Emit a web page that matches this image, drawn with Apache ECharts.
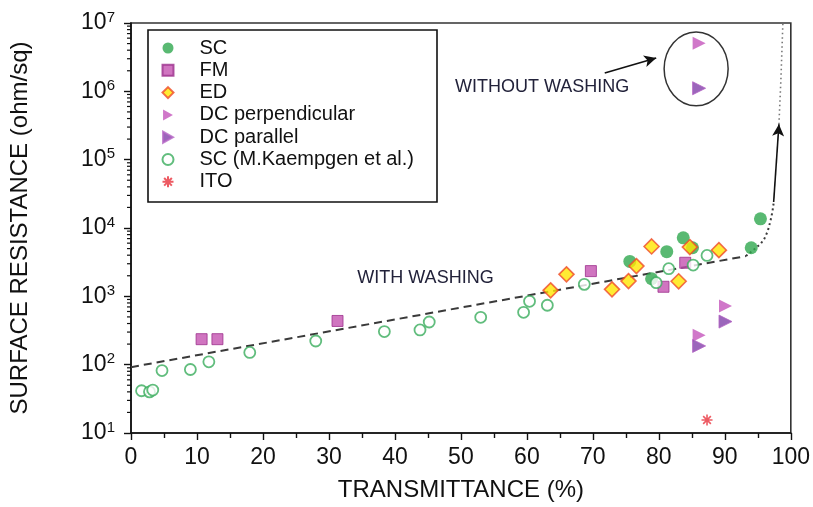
<!DOCTYPE html>
<html>
<head>
<meta charset="utf-8">
<script src="https://cdn.jsdelivr.net/npm/echarts@6/dist/echarts.min.js"></script>
<style>
  html, body { margin: 0; padding: 0; background: #fff; }
  #chart { width: 813px; height: 507px; }
</style>
</head>
<body>
<div id="chart"></div>
<script>
// Transmittance (%) vs sheet resistance (ohm/sq) for each film type
const scData = [[75.6, 3240], [78.9, 1810], [81.2, 4500], [83.7, 7190], [85.1, 5140], [94.0, 5140], [95.4, 13600]];
const fmData = [[10.7, 236], [13.1, 236], [31.3, 436], [69.7, 2340], [80.7, 1380], [84.0, 3100]];
const edData = [[63.6, 1225], [66.0, 2100], [72.9, 1265], [75.4, 1670], [76.6, 2770], [78.9, 5370], [83.0, 1660], [84.7, 5250], [89.1, 4740]];
const dcPerpData = [[86.1, 270], [90.1, 722], [86.1, 5.05e6]];
const dcParData = [[86.1, 188], [90.1, 427], [86.1, 1.11e6]];
const kaempgenData = [[1.6, 41.5], [2.8, 40], [3.3, 42.5], [4.7, 82], [9.0, 85], [11.8, 110], [18.0, 151], [28.0, 222],
  [38.4, 305], [43.8, 322], [45.2, 421], [53.0, 493], [59.5, 584], [60.4, 845], [63.1, 740], [68.7, 1497],
  [79.6, 1585], [81.5, 2540], [85.2, 2870], [87.3, 3970]];
const itoData = [[87.3, 15.5]];

// Guide curves
const washTrend = [[0, 92], [93.2, 3880]];
const riseCurve = [[93.2, 3880], [94.0, 4500], [94.8, 5200], [95.5, 6000], [96.0, 7000], [96.5, 9000], [96.9, 12500], [97.2, 17000], [97.4, 23300]];
const topCurve = [[98.2, 3.3e5], [98.5, 1.5e6], [98.8, 1e7]];
const washArrow = [[97.4, 2.4e4], [98.2, 3.3e5]];
const noWashArrow = [[71.8, 1.86e6], [79.6, 3.08e6]];
const noWashEllipse = { x: [80.8, 90.5], y: [6.14e5, 7.4e6] };
const noWashLabel = { text: 'WITHOUT WASHING', at: [49.1, 1.16e6] };
const washLabel = { text: 'WITH WASHING', at: [34.3, 1830] };

// Axis ticks
const xTicks = { min: 0, max: 100, step: 10 };
const yDecades = [10, 100, 1e3, 1e4, 1e5, 1e6, 1e7];
const seriesNames = ['SC', 'FM', 'ED', 'DC perpendicular', 'DC parallel', 'SC (M.Kaempgen et al.)', 'ITO'];

// 2..9 within every decade of the resistance axis
const minorLogTicks = [];
for (let d = 0; d < yDecades.length - 1; d++) {
  for (let k = 2; k <= 9; k++) minorLogTicks.push(k * yDecades[d]);
}

const FONT = '"Liberation Sans", Arial, sans-serif';
const asterisk = 'path://M0,5L10,5M5,0L5,10M1.5,1.5L8.5,8.5M8.5,1.5L1.5,8.5';
const rightTriangle = 'path://M0,0L9,5L0,10Z';

const chart = echarts.init(document.getElementById('chart'), null, { renderer: 'canvas' });

function scatter(name, data, symbol, size, itemStyle) {
  return {
    name, type: 'scatter', data, symbol, symbolSize: size, itemStyle, z: 3,
    emphasis: { disabled: true }
  };
}

function guide(data, type, color, width) {
  return {
    type: 'line', data, symbol: 'none', silent: true, z: 2,
    lineStyle: { color, width, type },
    emphasis: { disabled: true }
  };
}

const option = {
  animation: false,
  backgroundColor: '#fff',
  textStyle: { fontFamily: FONT },
  grid: { left: 130, right: 21, top: 23, bottom: 73, show: true, borderColor: '#333', borderWidth: 1.6, backgroundColor: 'transparent' },
  legend: {
    data: seriesNames,
    orient: 'vertical',
    left: 160, top: 38,
    padding: 0,
    itemWidth: 11, itemHeight: 11, itemGap: 2.3,
    formatter: name => '{t|' + name + '}',
    textStyle: {
      fontSize: 20, lineHeight: 20, color: '#111', fontFamily: FONT,
      rich: { t: { fontSize: 20, lineHeight: 20, color: '#111', fontFamily: FONT, padding: [0, 0, 0, 21] } }
    },
    selectedMode: false
  },
  xAxis: {
    type: 'value', min: xTicks.min, max: xTicks.max, interval: xTicks.step,
    name: 'TRANSMITTANCE (%)', nameLocation: 'middle', nameGap: 45,
    nameTextStyle: { fontSize: 24, color: '#111', fontFamily: FONT },
    axisLine: { lineStyle: { color: '#111', width: 1.6 } },
    axisTick: { length: 7, lineStyle: { color: '#111', width: 1.4 } },
    minorTick: { show: true, splitNumber: 2, length: 5, lineStyle: { color: '#111', width: 1.4 } },
    axisLabel: { fontSize: 23, color: '#111', margin: 13, fontFamily: FONT },
    splitLine: { show: false }
  },
  yAxis: {
    type: 'log', logBase: 10, min: yDecades[0], max: yDecades[yDecades.length - 1], interval: 1,
    name: 'SURFACE RESISTANCE (ohm/sq)', nameLocation: 'middle', nameGap: 99, nameRotate: 90,
    nameTextStyle: { fontSize: 24, color: '#111', fontFamily: FONT },
    axisLine: { lineStyle: { color: '#111', width: 1.6 } },
    axisTick: { length: 7, lineStyle: { color: '#111', width: 1.4 } },
    axisLabel: {
      margin: 16,
      formatter: v => '{b|10}{s|' + Math.round(Math.log10(v)) + '}',
      rich: {
        b: { fontSize: 23, color: '#111', fontFamily: FONT, lineHeight: 26 },
        s: { fontSize: 15, color: '#111', fontFamily: FONT, verticalAlign: 'top', lineHeight: 15 }
      }
    },
    splitLine: { show: false }
  },
  series: [
    guide(washTrend, [8, 5], '#3a3a3a', 2),
    guide(riseCurve, [2, 3], '#3a3a3a', 2),
    guide(topCurve, [1.5, 3], '#777', 1.6),
    {
      type: 'line', data: [], silent: true, z: 2,
      markLine: {
        silent: true, symbol: ['none', 'arrow'], symbolSize: [9, 12],
        label: { show: false },
        lineStyle: { color: '#111', width: 1.6, type: 'solid' },
        emphasis: { disabled: true },
        data: [
          [{ coord: washArrow[0] }, { coord: washArrow[1] }],
          [{ coord: noWashArrow[0] }, { coord: noWashArrow[1] }]
        ]
      }
    },
    {
      // minor ticks of the log axis, drawn just outside the left axis line
      type: 'custom', silent: true, clip: false, z: 4,
      data: minorLogTicks.map(v => [xTicks.min, v]),
      renderItem: (params, api) => {
        const p = api.coord([api.value(0), api.value(1)]);
        return {
          type: 'line',
          shape: { x1: p[0] - 4, y1: p[1], x2: p[0], y2: p[1] },
          style: { stroke: '#111', lineWidth: 1.2 }
        };
      }
    },
    scatter('SC', scData, 'circle', 13, { color: '#2fa84f' }),
    scatter('FM', fmData, 'rect', 11, { color: '#c452b0', borderColor: '#9c2f8c', borderWidth: 1 }),
    scatter('ED', edData, 'diamond', 15, { color: '#ffe600', borderColor: '#ef4a2a', borderWidth: 1.6 }),
    scatter('DC perpendicular', dcPerpData, rightTriangle, 13, { color: '#c455bb' }),
    scatter('DC parallel', dcParData, rightTriangle, 13, { color: '#8240aa', borderColor: '#b464c4', borderWidth: 1 }),
    scatter('SC (M.Kaempgen et al.)', kaempgenData, 'circle', 11, { color: '#fff', borderColor: '#3aad5c', borderWidth: 1.8 }),
    scatter('ITO', itoData, asterisk, 11, { color: 'none', borderColor: '#e8323c', borderWidth: 1.6 })
  ]
};

chart.setOption(option);

// Annotations placed in data coordinates
const px = p => chart.convertToPixel({ xAxisIndex: 0, yAxisIndex: 0 }, p);
const eA = px([noWashEllipse.x[0], noWashEllipse.y[1]]);
const eB = px([noWashEllipse.x[1], noWashEllipse.y[0]]);
const t1 = px(noWashLabel.at);
const t2 = px(washLabel.at);

chart.setOption({
  graphic: [
    {
      type: 'rect', silent: true, z: 1,
      shape: { x: 148, y: 30, width: 289, height: 172 },
      style: { fill: 'none', stroke: '#111', lineWidth: 1.6 }
    },
    {
      type: 'ellipse', silent: true,
      shape: { cx: (eA[0] + eB[0]) / 2, cy: (eA[1] + eB[1]) / 2, rx: Math.abs(eB[0] - eA[0]) / 2, ry: Math.abs(eB[1] - eA[1]) / 2 },
      style: { fill: 'none', stroke: '#333', lineWidth: 1.5 }
    },
    {
      type: 'text', silent: true, x: t1[0], y: t1[1],
      style: { text: noWashLabel.text, fill: '#22223a', font: '18px ' + FONT, verticalAlign: 'middle', align: 'left' }
    },
    {
      type: 'text', silent: true, x: t2[0], y: t2[1],
      style: { text: washLabel.text, fill: '#22223a', font: '18px ' + FONT, verticalAlign: 'middle', align: 'left' }
    }
  ]
});
</script>
</body>
</html>
